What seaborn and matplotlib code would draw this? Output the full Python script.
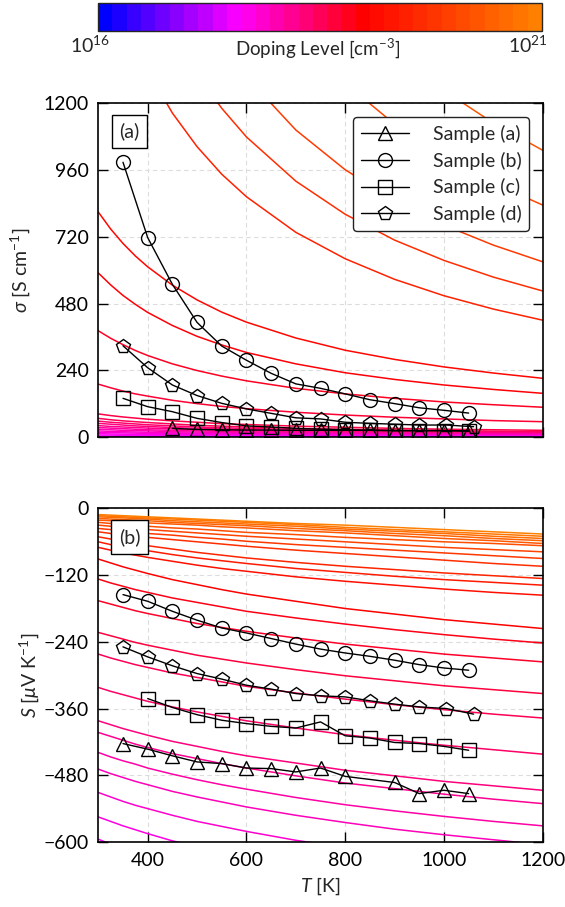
import numpy as np
import pandas as pd
import matplotlib
matplotlib.use("Agg")
import matplotlib.pyplot as plt
import matplotlib as mpl
import seaborn as sns
from matplotlib.colors import LinearSegmentedColormap, LogNorm

sns.set_theme(style="ticks")
plt.rcParams['font.family'] = ['Lato', 'DejaVu Sans']
plt.rcParams['mathtext.fontset'] = 'custom'
plt.rcParams['mathtext.rm'] = 'Lato'
plt.rcParams['mathtext.it'] = 'Lato:italic'
plt.rcParams['mathtext.fallback'] = 'stixsans'

# ---------------- data ----------------
T_GRID = [300, 325, 350, 375, 400, 450, 500, 550, 600, 700, 800, 900, 1000, 1100, 1200]

# model conductivity curves (log10 doping level, values on T_GRID)
sigma_doping_log = [20.30, 20.10, 19.90, 19.70, 19.50, 19.10, 18.95, 18.80, 18.70,
                    18.60, 18.50, 18.40, 18.30, 18.20, 18.10, 18.00, 17.90, 17.80,
                    17.70, 17.60, 17.50]
sigma_curves = [
    [4359, 4011, 3714, 3456, 3232, 2859, 2563, 2321, 2120, 1806, 1572, 1391, 1246, 1129, 1031],
    [3526, 3244, 3004, 2796, 2615, 2313, 2073, 1877, 1715, 1461, 1272, 1125, 1008, 913, 834],
    [2664, 2451, 2269, 2112, 1975, 1747, 1566, 1418, 1295, 1104, 961, 850, 762, 690, 630],
    [2220, 2042, 1891, 1760, 1646, 1456, 1305, 1182, 1079, 920, 801, 708, 635, 575, 525],
    [1776, 1634, 1513, 1408, 1317, 1165, 1044, 945, 864, 736, 641, 567, 508, 460, 420],
    [809, 748, 696, 651, 612, 546, 493, 449, 413, 356, 312, 279, 252, 230, 211],
    [590, 547, 509, 477, 448, 401, 362, 331, 304, 263, 231, 207, 187, 171, 157],
    [382, 355, 332, 311, 293, 263, 239, 219, 202, 175, 155, 139, 126, 116, 107],
    [190, 177, 165, 155, 147, 132, 120, 110, 102, 89, 79, 71, 65, 59, 55],
    [83, 77, 72, 68, 64, 58, 53, 48, 45, 39, 35, 31, 28, 26, 24],
    [67, 62, 58, 55, 52, 47, 42, 39, 36, 31, 28, 25, 23, 21, 19],
    [57, 53, 50, 47, 44, 40, 36, 33, 31, 27, 24, 21, 19, 18, 17],
    [49, 46, 43, 40, 38, 34, 31, 29, 26, 23, 20, 18, 17, 15, 14],
    [41, 38, 36, 34, 32, 29, 26, 24, 22, 19, 17, 15, 14, 13, 12],
    [34, 32, 30, 28, 26, 24, 22, 20, 18, 16, 14, 13, 12, 11, 10],
    [28, 26, 24, 23, 22, 19, 18, 16, 15, 13, 12, 11, 10, 9, 8],
    [22, 20, 19, 18, 17, 15, 14, 13, 12, 10, 9, 8, 8, 7, 6],
    [17, 16, 15, 14, 13, 12, 11, 10, 9, 8, 7, 6, 6, 5, 5],
    [12, 11, 10, 10, 9, 8, 8, 7, 6, 6, 5, 5, 4, 4, 3],
    [7, 7, 6, 6, 5, 5, 4, 4, 4, 3, 3, 3, 2, 2, 2],
    [3, 3, 3, 2, 2, 2, 2, 2, 2, 1, 1, 1, 1, 1, 1],
]

# model Seebeck curves (log10 doping level, values on T_GRID)
seebeck_doping_log = [21.00, 20.84, 20.68, 20.52, 20.36, 20.20, 20.04, 19.88, 19.72,
                      19.56, 19.40, 19.24, 19.00, 18.883, 18.767, 18.65, 18.533,
                      18.417, 18.30, 18.183, 18.067, 17.95, 17.833, 17.717, 17.60]
seebeck_curves = [
    [-11, -12, -13, -14, -15, -17, -19, -21, -23, -27, -30, -34, -38, -42, -46],
    [-13, -14, -15, -16, -17, -19, -21, -23, -25, -29, -34, -38, -42, -46, -50],
    [-15, -16, -17, -18, -19, -22, -24, -26, -28, -32, -37, -41, -45, -50, -54],
    [-18, -19, -20, -21, -22, -25, -27, -29, -31, -36, -40, -45, -49, -54, -58],
    [-21, -22, -23, -24, -26, -28, -30, -33, -35, -40, -44, -49, -54, -58, -63],
    [-25, -27, -28, -30, -32, -35, -37, -40, -43, -47, -52, -56, -60, -63, -67],
    [-30, -32, -34, -36, -38, -41, -44, -47, -50, -55, -60, -65, -70, -74, -78],
    [-36, -38, -40, -43, -45, -48, -52, -55, -59, -65, -70, -75, -80, -85, -90],
    [-42, -45, -47, -50, -52, -56, -60, -64, -68, -75, -81, -87, -93, -99, -104],
    [-51, -55, -59, -63, -67, -73, -79, -84, -89, -97, -104, -110, -116, -121, -126],
    [-60, -65, -69, -73, -76, -83, -89, -94, -99, -108, -115, -122, -128, -133, -138],
    [-70, -75, -80, -84, -88, -95, -102, -108, -113, -123, -131, -138, -145, -151, -156],
    [-91, -98, -105, -111, -117, -128, -137, -146, -154, -167, -180, -190, -200, -208, -216],
    [-127, -134, -140, -146, -151, -161, -169, -177, -185, -197, -208, -218, -227, -235, -242],
    [-166, -172, -178, -184, -189, -198, -207, -214, -221, -233, -244, -253, -262, -269, -276],
    [-223, -229, -235, -241, -246, -255, -264, -271, -278, -290, -301, -310, -319, -326, -333],
    [-262, -269, -275, -281, -286, -296, -304, -312, -320, -332, -343, -353, -362, -370, -377],
    [-322, -329, -335, -341, -347, -357, -366, -374, -382, -395, -407, -417, -426, -434, -442],
    [-382, -389, -396, -402, -408, -419, -428, -437, -445, -458, -471, -481, -491, -499, -507],
    [-403, -410, -417, -424, -430, -441, -450, -459, -467, -481, -494, -504, -514, -523, -531],
    [-439, -447, -454, -460, -467, -478, -488, -497, -505, -520, -533, -544, -554, -563, -571],
    [-469, -477, -484, -491, -497, -509, -519, -528, -537, -552, -565, -577, -587, -596, -605],
    [-511, -519, -527, -534, -540, -552, -563, -572, -581, -597, -610, -622, -633, -642, -651],
    [-555, -563, -571, -578, -585, -598, -608, -618, -628, -644, -658, -670, -681, -691, -700],
    [-595, -604, -612, -619, -626, -639, -650, -661, -670, -687, -701, -714, -725, -736, -745],
]

# measured samples
sample_names = ["Sample (a)", "Sample (b)", "Sample (c)", "Sample (d)"]
sample_markers = ["^", "o", "s", "p"]

sig_T_a = [450, 500, 550, 600, 650, 700, 750, 800, 850, 900, 950, 1000, 1050]
sig_a = [31, 27, 26, 25, 25, 24, 24, 24, 24, 23, 23, 23, 22]
sig_T_b = [350, 400, 450, 500, 550, 600, 650, 700, 750, 800, 850, 900, 950, 1000, 1050]
sig_b = [988, 717, 549, 412, 327, 276, 229, 191, 175, 155, 134, 120, 105, 96, 86]
sig_T_c = [350, 400, 450, 500, 550, 600, 650, 700, 750, 800, 850, 900, 950, 1000, 1050]
sig_c = [139, 109, 91, 67, 52, 40, 36, 31, 28, 26, 24, 23, 23, 23, 21]
sig_T_d = [350, 400, 450, 500, 550, 600, 650, 700, 750, 800, 850, 900, 950, 1005, 1060]
sig_d = [328, 249, 187, 149, 121, 101, 85, 69, 65, 53, 49, 46, 43, 43, 37]

see_T_a = [350, 400, 450, 500, 550, 600, 650, 700, 750, 800, 900, 950, 1000, 1050]
see_a = [-423, -433, -445, -456, -459, -467, -468, -474, -467, -482, -493, -513, -507, -513]
see_T_b = [350, 400, 450, 500, 550, 600, 650, 700, 750, 800, 850, 900, 950, 1000, 1050]
see_b = [-155, -167, -185, -201, -215, -224, -234, -244, -253, -260, -266, -273, -281, -287, -291]
see_T_c = [400, 450, 500, 550, 600, 650, 700, 750, 800, 850, 900, 950, 1000, 1050]
see_c = [-342, -358, -371, -381, -387, -392, -395, -384, -409, -413, -421, -423, -428, -435]
see_T_d = [350, 400, 450, 500, 550, 600, 650, 700, 750, 800, 850, 900, 950, 1005, 1060]
see_d = [-249, -267, -283, -297, -307, -318, -325, -333, -337, -339, -346, -352, -357, -360, -370]

# ---------------- styling ----------------
stops = [(0.0, "#0000ff"), (0.31, "#ff00ff"), (0.60, "#ff0000"), (1.0, "#ff8000")]
cmap = LinearSegmentedColormap.from_list("doping", stops)
cmap_bar = LinearSegmentedColormap.from_list("doping_bar", stops, N=31)
norm = LogNorm(1e16, 1e21)
FS = 14


def curve_frame(curves, dop, name):
    rows = []
    for i, (vals, d) in enumerate(zip(curves, dop)):
        for t, v in zip(T_GRID, vals):
            rows.append({"T": t, name: v, "curve": f"c{i:02d}"})
    pal = {f"c{i:02d}": cmap(norm(10 ** d)) for i, d in enumerate(dop)}
    return pd.DataFrame(rows), pal


fig = plt.figure(figsize=(5.65, 9.07), dpi=100)
ax1 = fig.add_axes([0.174, 0.5182, 0.7866, 0.3679])
ax2 = fig.add_axes([0.174, 0.0717, 0.7866, 0.3677])
cax = fig.add_axes([0.1735, 0.9658, 0.7858, 0.0309])

df_s, pal_s = curve_frame(sigma_curves, sigma_doping_log, "sigma")
sns.lineplot(data=df_s, x="T", y="sigma", hue="curve", palette=pal_s, legend=False,
             estimator=None, sort=False, lw=1.1, ax=ax1, zorder=2)
df_S, pal_S = curve_frame(seebeck_curves, seebeck_doping_log, "S")
sns.lineplot(data=df_S, x="T", y="S", hue="curve", palette=pal_S, legend=False,
             estimator=None, sort=False, lw=1.1, ax=ax2, zorder=2)

sig_sets = [(sig_T_a, sig_a), (sig_T_b, sig_b), (sig_T_c, sig_c), (sig_T_d, sig_d)]
see_sets = [(see_T_a, see_a), (see_T_b, see_b), (see_T_c, see_c), (see_T_d, see_d)]
for ax, sets in ((ax1, sig_sets), (ax2, see_sets)):
    for (tx, vy), mk, nm in zip(sets, sample_markers, sample_names):
        sns.lineplot(x=tx, y=vy, ax=ax, color="black", lw=1.0, marker=mk,
                     ms=10 if mk != "s" else 9.5, mfc="none", mec="black", mew=1.0,
                     label=nm, estimator=None, sort=False, zorder=5)
    for ln in ax.lines:
        if ln.get_marker() not in (None, "None", ""):
            ln.set_markerfacecolor("none")
            ln.set_markeredgecolor("black")

for ax in (ax1, ax2):
    ax.set_xlim(300, 1200)
    ax.set_xticks([400, 600, 800, 1000, 1200])
    ax.grid(True, ls=(0, (4, 3)), color="#dcdcdc", lw=0.8)
    ax.set_axisbelow(True)
    ax.tick_params(direction="in", top=True, right=True, length=7, width=1.0,
                   labelsize=FS, colors="black", pad=7)
    for sp in ax.spines.values():
        sp.set_linewidth(1.2)
        sp.set_color("black")

ax1.set_ylim(0, 1200)
ax1.set_yticks([0, 240, 480, 720, 960, 1200])
ax1.set_xticklabels([])
ax1.set_xlabel("")
ax1.set_ylabel(r"$\sigma$ [S cm$^{-1}$]", fontsize=FS, labelpad=8)

ax2.set_ylim(-600, 0)
ax2.set_yticks([-600, -480, -360, -240, -120, 0])
ax2.set_xlabel(r"$T$ [K]", fontsize=FS, labelpad=5)
ax2.set_ylabel(r"$S$ [$\mu$V K$^{-1}$]", fontsize=FS, labelpad=2)

leg = ax1.legend(loc="upper right", fontsize=FS, frameon=True, fancybox=True,
                 framealpha=1, edgecolor="#222222", handlelength=2.5,
                 handletextpad=1.2, labelspacing=0.45, borderaxespad=0.7,
                 borderpad=0.4)
leg.get_frame().set_linewidth(1.0)
if ax2.get_legend() is not None:
    ax2.get_legend().remove()

for ax, lab in ((ax1, "(a)"), (ax2, "(b)")):
    ax.text(0.070, 0.915, lab, transform=ax.transAxes, ha="center", va="center",
            fontsize=FS, zorder=6,
            bbox=dict(boxstyle="square,pad=0.4", fc="white", ec="black", lw=1.0))

cb = mpl.colorbar.ColorbarBase(cax, cmap=cmap_bar, norm=norm, orientation="horizontal")
cax.xaxis.set_minor_locator(mpl.ticker.NullLocator())
cax.set_xticks([])
cb.outline.set_linewidth(1.0)
fig.text(90 / 565, 1 - 45 / 907, r"$10^{16}$", ha="center", va="center", fontsize=FS)
fig.text(528 / 565, 1 - 45 / 907, r"$10^{21}$", ha="center", va="center", fontsize=FS)
fig.text(318 / 565, 1 - 48 / 907, r"Doping Level [cm$^{-3}$]", ha="center", va="center",
         fontsize=13.5)

fig.savefig("out.png", dpi=100)
